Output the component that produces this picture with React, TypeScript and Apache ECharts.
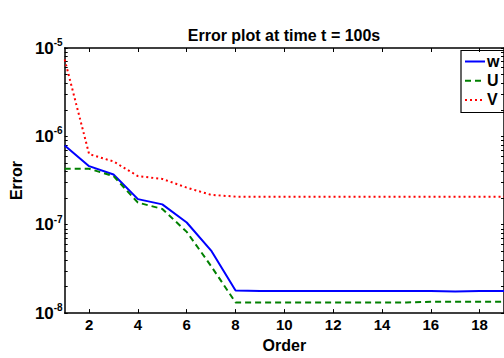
import React, { useEffect, useRef } from "react";
import * as echarts from "echarts";

const orders = [1, 2, 3, 4, 5, 6, 7, 8, 9, 10, 11, 12, 13, 14, 15, 16, 17, 18, 19];
const wErr = [7.9e-7, 4.6e-7, 3.7e-7, 1.95e-7, 1.7e-7, 1.06e-7, 5.1e-8, 1.8e-8, 1.78e-8, 1.78e-8, 1.78e-8, 1.78e-8, 1.78e-8, 1.78e-8, 1.78e-8, 1.78e-8, 1.75e-8, 1.78e-8, 1.78e-8];
const uErr = [4.3e-7, 4.3e-7, 3.55e-7, 1.78e-7, 1.51e-7, 8.3e-8, 3.4e-8, 1.32e-8, 1.32e-8, 1.32e-8, 1.32e-8, 1.32e-8, 1.32e-8, 1.32e-8, 1.32e-8, 1.34e-8, 1.34e-8, 1.34e-8, 1.34e-8];
const vErr = [7.4e-6, 6.3e-7, 5.2e-7, 3.55e-7, 3.3e-7, 2.63e-7, 2.18e-7, 2.08e-7, 2.07e-7, 2.07e-7, 2.07e-7, 2.07e-7, 2.07e-7, 2.07e-7, 2.07e-7, 2.07e-7, 2.07e-7, 2.07e-7, 2.07e-7];
const xTicks = [2, 4, 6, 8, 10, 12, 14, 16, 18];
const seriesNames = ["w", "U", "V"];
const seriesColors = ["#0000ff", "#008000", "#ff0000"];
const yMinorTicks: number[] = [];
for (let e = -8; e < -5; e++) {
  for (let m = 1; m <= 9; m++) yMinorTicks.push(m * Math.pow(10, e));
}
yMinorTicks.push(1e-5);

const FONT = "Liberation Sans";
const dashes: any[] = ["solid", [6, 4], [2, 3]];

export default function App() {
  const ref = useRef<HTMLDivElement>(null);
  useEffect(() => {
    const chart = echarts.init(ref.current!, undefined, { renderer: "svg" });
    const mk = (i: number, data: number[]) => ({
      name: seriesNames[i],
      type: "line",
      data: orders.map((o, k) => [o, data[k]]),
      showSymbol: false,
      symbol: "none",
      lineStyle: { color: seriesColors[i], width: 2, type: dashes[i] },
      itemStyle: { color: seriesColors[i] },
      z: 3,
    });
    const legendItems: any[] = [
      { type: "rect", shape: { x: 461, y: 50.5, width: 60, height: 62 }, style: { fill: "#fff", stroke: "#000", lineWidth: 1.2 } },
    ];
    seriesNames.forEach((n, i) => {
      const y = 61.5 + i * 19.2;
      legendItems.push({
        type: "line",
        shape: { x1: 465, y1: y, x2: 485, y2: y },
        style: { stroke: seriesColors[i], lineWidth: 2, lineDash: dashes[i] === "solid" ? null : dashes[i] },
      });
      legendItems.push({
        type: "text",
        x: 487,
        y,
        style: { text: n, fontFamily: FONT, fontWeight: "bold", fontSize: 16, fill: "#000", textVerticalAlign: "middle", verticalAlign: "middle" },
      });
    });
    chart.setOption({
      animation: false,
      title: {
        text: "Error plot at time t = 100s",
        left: 279,
        textAlign: "center",
        top: 22,
        textStyle: { fontFamily: FONT, fontWeight: "bold", fontSize: 16, color: "#000" },
      },
      graphic: { elements: [{ type: "group", z: 100, children: legendItems }] },
      grid: { left: 54, right: -1, top: 48, bottom: 38 },
      xAxis: [
        {
          type: "value",
          min: 1,
          max: 19,
          name: "Order",
          nameLocation: "middle",
          nameGap: 19,
          nameTextStyle: { fontFamily: FONT, fontWeight: "bold", fontSize: 16, color: "#000" },
          axisLine: { lineStyle: { color: "#000", width: 1.5 } },
          axisTick: { inside: true, length: 4, customValues: xTicks, lineStyle: { color: "#000" } },
          axisLabel: { customValues: xTicks, fontFamily: FONT, fontWeight: "bold", fontSize: 15, color: "#000", margin: 4 },
          splitLine: { show: false },
        },
        {
          type: "value",
          min: 1,
          max: 19,
          position: "top",
          axisLine: { lineStyle: { color: "#000", width: 1.5 } },
          axisTick: { inside: true, length: 4, customValues: xTicks, lineStyle: { color: "#000" } },
          axisLabel: { show: false },
          splitLine: { show: false },
        },
      ],
      yAxis: [
        {
          type: "log",
          logBase: 10,
          min: 1e-8,
          max: 1e-5,
          name: "Error",
          nameLocation: "middle",
          nameGap: 40,
          nameTextStyle: { fontFamily: FONT, fontWeight: "bold", fontSize: 16, color: "#000" },
          axisLine: { lineStyle: { color: "#000", width: 1.5 } },
          axisTick: { inside: true, length: 3, customValues: yMinorTicks, lineStyle: { color: "#000" } },
          axisLabel: {
            fontFamily: FONT,
            color: "#000",
            margin: 2,
            formatter: (v: number) => `{b|10}{s|${Math.round(Math.log10(v))}}`,
            rich: {
              b: { fontFamily: FONT, fontWeight: "bold", fontSize: 17, color: "#000" },
              s: { fontFamily: FONT, fontWeight: "bold", fontSize: 10, color: "#000", verticalAlign: "bottom", padding: [0, 0, 11, 0] },
            },
          },
          splitLine: { show: false },
        },
        {
          type: "log",
          logBase: 10,
          min: 1e-8,
          max: 1e-5,
          position: "right",
          axisLine: { lineStyle: { color: "#000", width: 1.5 } },
          axisTick: { inside: true, length: 3, customValues: yMinorTicks, lineStyle: { color: "#000" } },
          axisLabel: { show: false },
          splitLine: { show: false },
        },
      ],
      series: [mk(0, wErr), mk(1, uErr), mk(2, vErr)],
    });
    return () => chart.dispose();
  }, []);
  return <div ref={ref} style={{ width: 504, height: 358, position: "absolute", left: 0, top: 0 }} />;
}
